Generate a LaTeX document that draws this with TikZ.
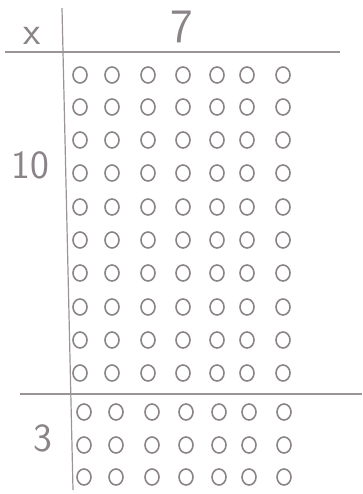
\documentclass[tikz,border=0pt]{standalone}
\usepackage{tikz}
\usetikzlibrary{positioning,calc,shapes.geometric}
\definecolor{pencil}  {HTML}{8A8488}
\definecolor{softpencil}{HTML}{9A9498}
\tikzset{
  % --- nodes
  dot/.style   = {ellipse, draw=pencil, line width=1.6pt, minimum width=14pt,
                  minimum height=16pt, inner sep=0pt},
  hand/.style  = {font=\sffamily, text=pencil, inner sep=0pt},
  % --- lines
  rule/.style  = {draw=softpencil, line width=1.2pt},
}

\begin{document}
\begin{tikzpicture}[x=1pt,y=-1pt]
  \useasboundingbox (0,0) rectangle (362,494);
  % grid lines
  \coordinate (tl) at (5,52);
  \coordinate (tr) at (340,52);
  \coordinate (ml) at (20,394);
  \coordinate (mr) at (362,394);
  \coordinate (vt) at (62,8);
  \coordinate (vb) at (73,490);
  \draw[rule] (tl) -- (tr);
  \draw[rule] (ml) -- (mr);
  \draw[rule] (vt) -- (vb);
  % labels
  \node[hand, font=\sffamily\fontsize{40}{40}\selectfont] (times) at (32,36) {x};
  \node[hand, font=\sffamily\fontsize{48}{48}\selectfont] (seven) at (182,27) {7};
  \node[hand, font=\sffamily\fontsize{40}{40}\selectfont] (ten) at (30,165) {10};
  \node[hand, font=\sffamily\fontsize{40}{40}\selectfont] (three) at (43,438) {3};
  % the ten rows
  \foreach \y [count=\r] in {75,107,140,173,207,240,273,307,340,373}
    \foreach \x [count=\c] in {80,112,148,183,217,247,283}
      \node[dot] (a-\r-\c) at (\x,\y) {};
  % the three rows
  \foreach \y [count=\r] in {412,445,477}
    \foreach \x [count=\c] in {84,116,152,186,219,249,284}
      \node[dot] (b-\r-\c) at (\x,\y) {};
\end{tikzpicture}
\end{document}
